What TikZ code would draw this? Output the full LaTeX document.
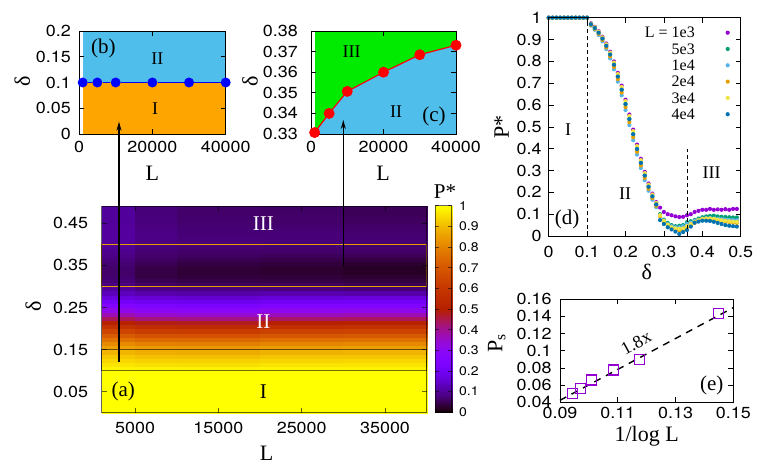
\documentclass[tikz,border=0pt]{standalone}
\usepackage{fontspec}
\setmainfont{Liberation Serif}
\newfontfamily\tickfont[FakeStretch=1.12]{TeX Gyre Heros}
\usetikzlibrary{arrows.meta}

\definecolor{cPa}{HTML}{9400D3}
\definecolor{cPb}{HTML}{009E73}
\definecolor{cPc}{HTML}{56B4E9}
\definecolor{cPd}{HTML}{E69F00}
\definecolor{cPe}{HTML}{F0E442}
\definecolor{cPf}{HTML}{0072B2}
\definecolor{skyfill}{RGB}{80,190,235}
\definecolor{orfill}{RGB}{255,165,0}
\definecolor{grfill}{RGB}{0,235,0}

% P* data: falling edge shifts, and tails for delta = 0.29 ... 0.49
\def\offs{{0.003,0,-0.004,-0.002,0.002,0}}
\def\Lvals{{1,5,10,20,30,40}}
\def\tailA{{0.13,0.11,0.10,0.095,0.09,0.087,0.088,0.095,0.10,0.11,0.115,0.12,0.12,0.124,0.12,0.122,0.12,0.123,0.12,0.124,0.124}}
\def\tailB{{0.10,0.075,0.06,0.05,0.045,0.047,0.05,0.063,0.068,0.073,0.08,0.086,0.09,0.092,0.093,0.09,0.088,0.087,0.086,0.085,0.085}}
\def\tailC{{0.095,0.07,0.055,0.045,0.04,0.04,0.045,0.055,0.062,0.07,0.075,0.08,0.082,0.083,0.08,0.078,0.077,0.075,0.074,0.073,0.072}}
\def\tailD{{0.09,0.065,0.05,0.035,0.03,0.025,0.03,0.04,0.05,0.06,0.07,0.076,0.078,0.078,0.075,0.07,0.068,0.066,0.064,0.062,0.06}}
\def\tailE{{0.095,0.07,0.052,0.04,0.035,0.033,0.035,0.045,0.055,0.065,0.072,0.078,0.08,0.08,0.078,0.075,0.072,0.07,0.068,0.066,0.065}}
\def\tailF{{0.073,0.055,0.04,0.03,0.02,0.009,0.018,0.027,0.043,0.061,0.066,0.07,0.07,0.069,0.065,0.06,0.055,0.05,0.047,0.045,0.043}}

\newcommand\getP[2]{%
  \ifnum#2<11 \def\pval{1}%
  \else\ifnum#2<29
    \pgfmathsetmacro\shv{\offs[#1]}%
    \pgfmathsetmacro\pval{min(1,1.03/(1+exp((#2/100-0.213-\shv)/0.037)))}%
  \else
    \ifcase#1 \let\tailv\tailA\or\let\tailv\tailB\or\let\tailv\tailC
    \or\let\tailv\tailD\or\let\tailv\tailE\else\let\tailv\tailF\fi
    \pgfmathtruncatemacro\tix{#2-29}%
    \pgfmathsetmacro\pval{\tailv[\tix]}%
  \fi\fi}

\newcommand\heatcol[1]{%
  \pgfmathsetmacro\hR{sqrt(#1)}%
  \pgfmathsetmacro\hG{(#1)*(#1)*(#1)}%
  \pgfmathsetmacro\hB{max(0,sin(360*(#1)))}%
  \definecolor{hm}{rgb}{\hR,\hG,\hB}}

\begin{document}
\begin{tikzpicture}[x=1pt,y=-1pt,
  tkl/.style={font=\tickfont\fontsize{16}{16}\selectfont,inner sep=0pt},
  cbl/.style={font=\tickfont\fontsize{12.5}{12.5}\selectfont,inner sep=0pt,anchor=west},
  axl/.style={font=\fontsize{22}{22}\selectfont,inner sep=0pt},
  reg/.style={font=\fontsize{18}{18}\selectfont,inner sep=0pt},
  pnl/.style={font=\fontsize{21}{21}\selectfont,inner sep=0pt},
  box/.style={draw=black,line width=0.9pt},
  tck/.style={draw=black,line width=0.7pt},
  bdot/.style={circle,fill=blue,inner sep=0pt,minimum size=10pt},
  rdot/.style={circle,fill=red,inner sep=0pt,minimum size=11pt},
  sqmark/.style={rectangle,draw=cPa,line width=1.2pt,inner sep=0pt,minimum size=10pt},
  dashline/.style={draw=black,line width=1pt,dash pattern=on 4pt off 3pt},
  conn/.style={-{Stealth[length=9pt,width=5pt]},line width=1.1pt}]
\useasboundingbox (0,0) rectangle (763,469);

% (a) heat map
\begin{scope}[shift={(93.37,412.7)},x=8.3333pt,y=421pt]
  \foreach \k in {0,...,4} {
    \pgfmathtruncatemacro\kk{\k+1}
    \pgfmathsetmacro\xa{\Lvals[\k]}
    \pgfmathsetmacro\xb{\Lvals[\kk]}
    \foreach \i in {0,...,48} {
      \pgfmathtruncatemacro\ii{\i+1}
      \getP{\k}{\i}\let\pA\pval
      \getP{\kk}{\i}\let\pB\pval
      \getP{\k}{\ii}\let\pC\pval
      \getP{\kk}{\ii}\let\pD\pval
      \pgfmathsetmacro\pavg{(\pA+\pB+\pC+\pD)/4}
      \heatcol{\pavg}
      \path[fill=hm,draw=hm,line width=0.3pt] (\xa,\i/100) rectangle (\xb,\ii/100);
    }
  }
  \draw[black,opacity=0.55,line width=1.2pt] (1,0.1) rectangle (40,0.15);
  \draw[cPd,line width=1.2pt] (1,0.3) rectangle (40,0.4);
  \draw[black,opacity=0.6,line width=0.9pt] (1,0) rectangle (40,0.49);
  \foreach \t/\lab in {5/0.05,15/0.15,25/0.25,35/0.35,45/0.45} {
    \draw[tck,opacity=0.6] (1,\t/100) -- ++(5pt,0);
    \draw[tck,opacity=0.6] (40,\t/100) -- ++(-5pt,0);
    \node[tkl,anchor=east,xshift=-13.4pt] (ay\t) at (1,\t/100) {\lab};
  }
  \foreach \t in {5,15,25,35} {
    \draw[tck,opacity=0.6] (\t,0) -- ++(0,5pt);
    \draw[tck,opacity=0.6] (\t,0.49) -- ++(0,-5pt);
    \node[tkl,yshift=-15.6pt] (ax\t) at (\t,0) {\t000};
  }
\end{scope}
\node[reg,font=\fontsize{21}{21}\selectfont,white] (aIII) at (263.3,223.3) {III};
\node[reg,font=\fontsize{21}{21}\selectfont,white] (aII) at (263.3,321.7) {II};
\node[reg,font=\fontsize{21}{21}\selectfont] (aI) at (263.3,391.7) {I};
\node[pnl] (alab) at (123.3,391.7) {(a)};
\node[axl,rotate=90] (ayl) at (33.3,306.7) {δ};
\node[axl] (axlb) at (266.7,453.3) {L};

% colour box
\begin{scope}[shift={(435,412.3)},x=16.7pt,y=206.6pt]
  \foreach \j in {0,...,99} {
    \pgfmathsetmacro\pv{(\j+0.5)/100}
    \heatcol{\pv}
    \path[fill=hm,draw=hm,line width=0.3pt] (0,\j/100) rectangle (1,\j/100+0.01);
  }
  \draw[black,opacity=0.6,line width=0.9pt] (0,0) rectangle (1,1);
  \foreach \t/\lab in {0/0,1/0.1,2/0.2,3/0.3,4/0.4,5/0.5,6/0.6,7/0.7,8/0.8,9/0.9,10/1} {
    \draw[tck,opacity=0.6] (0,\t/10) -- ++(3.5pt,0);
    \draw[tck,opacity=0.6] (1,\t/10) -- ++(-3.5pt,0);
    \node[cbl,xshift=7.3pt] (cb\t) at (1,\t/10) {\lab};
  }
\end{scope}
\node[axl,font=\fontsize{21}{21}\selectfont] (cbt) at (445,191.7) {P*};

% (b)
\begin{scope}[shift={(79,134)},x=3.6675pt,y=515pt]
  \fill[orfill] (1,0) rectangle (40,0.1);
  \fill[skyfill] (1,0.1) rectangle (40,0.2);
  \draw[box] (0,0) rectangle (40,0.2);
  \foreach \y/\lab in {0/0,0.05/0.05,0.1/0.1,0.15/0.15,0.2/0.2} {
    \draw[tck] (0,\y) -- ++(5pt,0);
    \draw[tck] (40,\y) -- ++(-5pt,0);
    \node[tkl,anchor=east,xshift=-8pt] (by\lab) at (0,\y) {\lab};
  }
  \foreach \x/\lab in {0/0,20/20000,40/40000} {
    \draw[tck] (\x,0) -- ++(0,5pt);
    \draw[tck] (\x,0.2) -- ++(0,-5pt);
    \node[tkl,yshift=-12.7pt] (bx\x) at (\x,0) {\lab};
  }
  \foreach \L [count=\n] in {1,5,10,20,30,40}
    \node[bdot] (pb\n) at (\L,0.1) {};
  \draw[blue,line width=1.2pt] (pb1) -- (pb2) -- (pb3) -- (pb4) -- (pb5) -- (pb6);
\end{scope}
\node[pnl] (blab) at (103.3,48.3) {(b)};
\node[reg] (bII) at (157.3,58.3) {II};
\node[reg] (bI) at (155,108.3) {I};
\node[axl,rotate=90] (byl) at (22.3,81.7) {δ};
\node[axl] (bxl) at (152.3,173) {L};

% (c)
\begin{scope}[shift={(311,813.8)},x=3.625pt,y=2060pt]
  \fill[grfill] (1,0.33) rectangle (40,0.38);
  \foreach \L/\d [count=\n] in {1/0.3307,5/0.34,10/0.3507,20/0.36,30/0.3685,40/0.3731}
    \coordinate (qc\n) at (\L,\d);
  \fill[skyfill] (1,0.33) -- (qc1) -- (qc2) -- (qc3) -- (qc4) -- (qc5) -- (qc6) -- (40,0.33) -- cycle;
  \draw[box] (0,0.33) rectangle (40,0.38);
  \foreach \t in {33,...,38} {
    \draw[tck] (0,\t/100) -- ++(5pt,0);
    \draw[tck] (40,\t/100) -- ++(-5pt,0);
    \node[tkl,anchor=east,xshift=-13pt] (cy\t) at (0,\t/100) {0.\t};
  }
  \foreach \x/\lab in {0/0,20/20000,40/40000} {
    \draw[tck] (\x,0.33) -- ++(0,5pt);
    \draw[tck] (\x,0.38) -- ++(0,-5pt);
    \node[tkl,yshift=-12.7pt] (cx\x) at (\x,0.33) {\lab};
  }
  \draw[red,line width=1.2pt] (qc1) -- (qc2) -- (qc3) -- (qc4) -- (qc5) -- (qc6);
  \foreach \n in {1,...,6}
    \node[rdot] (pc\n) at (qc\n) {};
\end{scope}
\node[reg] (cIII) at (351.7,51.7) {III};
\node[reg] (cII) at (396,112) {II};
\node[pnl] (clab) at (434,116.7) {(c)};
\node[axl,rotate=90] (cyl) at (250,81.7) {δ};
\node[axl] (cxl) at (383,173) {L};

% (d)
\begin{scope}[shift={(548.7,236)},x=384pt,y=218.3pt]
  \foreach \s/\col in {0/cPa,1/cPb,2/cPc,3/cPd,4/cPe,5/cPf}
    \foreach \i in {0,...,49} {
      \getP{\s}{\i}
      \fill[\col] (\i/100,\pval) circle (2.1pt);
    }
  \coordinate (dA1) at (0.1,0);
  \coordinate (dA2) at (0.1,1);
  \coordinate (dB1) at (0.362,0);
  \coordinate (dB2) at (0.362,0.4);
  \draw[dashline] (dA1) -- (dA2);
  \draw[dashline] (dB1) -- (dB2);
  \draw[box] (0,0) rectangle (0.5,1);
  \foreach \t/\lab in {0/0,1/0.1,2/0.2,3/0.3,4/0.4,5/0.5,6/0.6,7/0.7,8/0.8,9/0.9,10/1} {
    \draw[tck] (0,\t/10) -- ++(5pt,0);
    \draw[tck] (0.5,\t/10) -- ++(-5pt,0);
    \node[tkl,anchor=east,xshift=-7pt] (dy\t) at (0,\t/10) {\lab};
  }
  \foreach \t/\lab in {0/0,1/0.1,2/0.2,3/0.3,4/0.4,5/0.5} {
    \draw[tck] (\t/10,0) -- ++(0,5pt);
    \draw[tck] (\t/10,1) -- ++(0,-5pt);
    \node[tkl,yshift=-15.7pt] (dx\t) at (\t/10,0) {\lab};
  }
\end{scope}
\foreach \lab/\col [count=\n] in {L = 1e3/cPa,5e3/cPb,1e4/cPc,2e4/cPd,3e4/cPe,4e4/cPf} {
  \node[font=\fontsize{16}{16}\selectfont,inner sep=0pt,anchor=east] (lg\n) at (695,16.4+16.3*\n) {\lab};
  \fill[\col] (727.7,16.4+16.3*\n) circle (2.1pt);
}
\node[reg] (dI) at (568,129.3) {I};
\node[reg] (dII) at (625,193.3) {II};
\node[reg] (dIII) at (711.7,172.7) {III};
\node[pnl] (dlab) at (567,219) {(d)};
\node[axl,rotate=90] (dyl) at (501.7,127.3) {P*};
\node[axl] (dxl) at (646.7,271.7) {δ};

% (e)
\begin{scope}[shift={(300,436.6)},x=2888.9pt,y=858.3pt]
  \coordinate (fitA) at (0.09,0.0423);
  \coordinate (fitB) at (0.15,0.1503);
  \draw[draw=black,line width=1.4pt,dash pattern=on 7pt off 6pt] (fitA) -- (fitB);
  \foreach \x/\y [count=\n] in {0.094284/0.0505,0.096998/0.0558,0.100966/0.066,0.108574/0.0776,0.117406/0.09,0.144765/0.143}
    \node[sqmark] (sq\n) at (\x,\y) {};
  \draw[box] (0.09,0.04) rectangle (0.15,0.16);
  \foreach \t/\lab in {4/0.04,6/0.06,8/0.08,10/0.1,12/0.12,14/0.14,16/0.16} {
    \draw[tck] (0.09,\t/100) -- ++(5pt,0);
    \draw[tck] (0.15,\t/100) -- ++(-5pt,0);
    \node[tkl,anchor=east,xshift=-8.3pt] (ey\t) at (0.09,\t/100) {\lab};
  }
  \foreach \t/\lab in {9/0.09,11/0.11,13/0.13,15/0.15} {
    \draw[tck] (\t/100,0.04) -- ++(0,5pt);
    \draw[tck] (\t/100,0.16) -- ++(0,-5pt);
    \node[tkl,yshift=-10.9pt] (ex\t) at (\t/100,0.04) {\lab};
  }
\end{scope}
\node[reg,rotate=29] (slope) at (636,343) {1.8x};
\node[pnl] (elab) at (711.7,385) {(e)};
\node[axl,rotate=90] (eyl) at (496.7,343) {P$_\mathrm{s}$};
\node[axl] (exl) at (646.7,436.7) {1/log L};

% arrows from (a) to (b) and (c)
\coordinate (tailB) at (119,361.7);
\coordinate (headB) at (119,121.7);
\coordinate (tailC) at (343.3,266);
\coordinate (headC) at (343.3,120);
\draw[conn] (tailB) -- (headB);
\draw[conn] (tailC) -- (headC);
\end{tikzpicture}
\end{document}
